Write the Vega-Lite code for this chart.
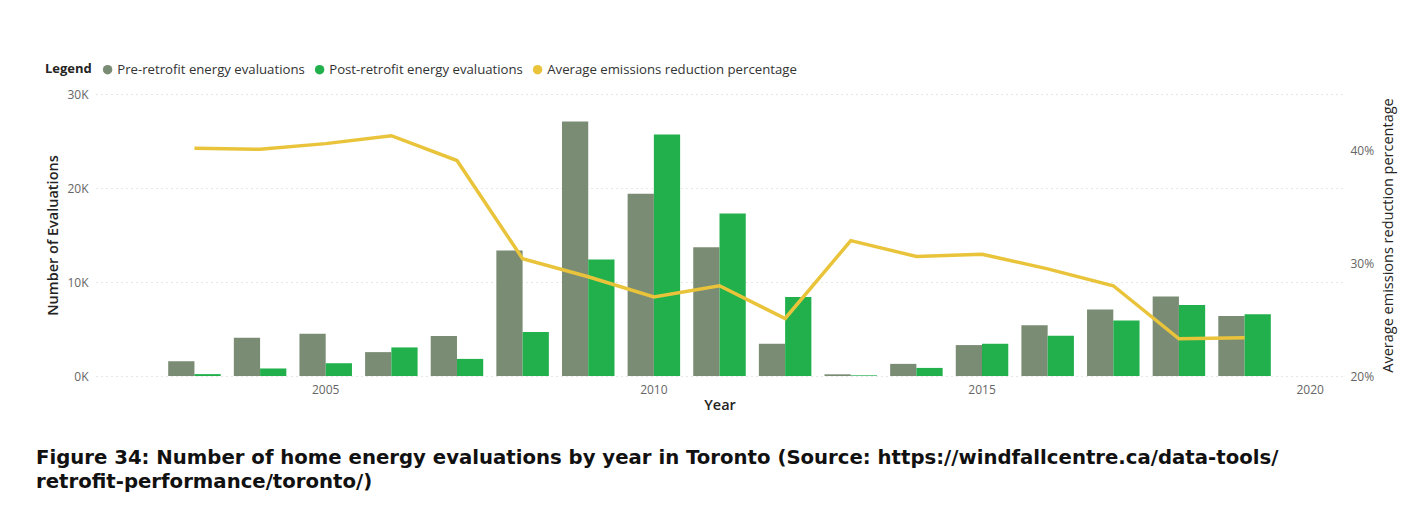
{
  "$schema": "https://vega.github.io/schema/vega-lite/v6.json",
  "autosize": {"type": "none"},
  "width": 1247,
  "height": 282,
  "padding": {"left": 96, "top": 94, "right": 75, "bottom": 138},
  "background": "#ffffff",
  "config": {
    "font": "Open Sans",
    "view": {"stroke": null},
    "axis": {"labelFont": "Open Sans", "titleFont": "Open Sans", "labelColor": "#666666", "labelFontSize": 12, "titleColor": "#252423", "titleFontSize": 14.5, "titleFontWeight": 600, "domain": false, "ticks": false}
  },
  "datasets": {
    "bars": [
      {"year": "2003", "series": "Pre-retrofit energy evaluations", "value": 1570},
      {"year": "2003", "series": "Post-retrofit energy evaluations", "value": 200},
      {"year": "2004", "series": "Pre-retrofit energy evaluations", "value": 4070},
      {"year": "2004", "series": "Post-retrofit energy evaluations", "value": 800},
      {"year": "2005", "series": "Pre-retrofit energy evaluations", "value": 4500},
      {"year": "2005", "series": "Post-retrofit energy evaluations", "value": 1360},
      {"year": "2006", "series": "Pre-retrofit energy evaluations", "value": 2540},
      {"year": "2006", "series": "Post-retrofit energy evaluations", "value": 3040},
      {"year": "2007", "series": "Pre-retrofit energy evaluations", "value": 4250},
      {"year": "2007", "series": "Post-retrofit energy evaluations", "value": 1820},
      {"year": "2008", "series": "Pre-retrofit energy evaluations", "value": 13360},
      {"year": "2008", "series": "Post-retrofit energy evaluations", "value": 4680},
      {"year": "2009", "series": "Pre-retrofit energy evaluations", "value": 27070},
      {"year": "2009", "series": "Post-retrofit energy evaluations", "value": 12400},
      {"year": "2010", "series": "Pre-retrofit energy evaluations", "value": 19400},
      {"year": "2010", "series": "Post-retrofit energy evaluations", "value": 25700},
      {"year": "2011", "series": "Pre-retrofit energy evaluations", "value": 13700},
      {"year": "2011", "series": "Post-retrofit energy evaluations", "value": 17300},
      {"year": "2012", "series": "Pre-retrofit energy evaluations", "value": 3430},
      {"year": "2012", "series": "Post-retrofit energy evaluations", "value": 8400},
      {"year": "2013", "series": "Pre-retrofit energy evaluations", "value": 180},
      {"year": "2013", "series": "Post-retrofit energy evaluations", "value": 70},
      {"year": "2014", "series": "Pre-retrofit energy evaluations", "value": 1290},
      {"year": "2014", "series": "Post-retrofit energy evaluations", "value": 860},
      {"year": "2015", "series": "Pre-retrofit energy evaluations", "value": 3290},
      {"year": "2015", "series": "Post-retrofit energy evaluations", "value": 3430},
      {"year": "2016", "series": "Pre-retrofit energy evaluations", "value": 5400},
      {"year": "2016", "series": "Post-retrofit energy evaluations", "value": 4290},
      {"year": "2017", "series": "Pre-retrofit energy evaluations", "value": 7070},
      {"year": "2017", "series": "Post-retrofit energy evaluations", "value": 5900},
      {"year": "2018", "series": "Pre-retrofit energy evaluations", "value": 8460},
      {"year": "2018", "series": "Post-retrofit energy evaluations", "value": 7540},
      {"year": "2019", "series": "Pre-retrofit energy evaluations", "value": 6390},
      {"year": "2019", "series": "Post-retrofit energy evaluations", "value": 6570}
    ],
    "line": [
      {"year": "2003", "pct": 40.2},
      {"year": "2004", "pct": 40.1},
      {"year": "2005", "pct": 40.6},
      {"year": "2006", "pct": 41.3},
      {"year": "2007", "pct": 39.1},
      {"year": "2008", "pct": 30.4},
      {"year": "2009", "pct": 28.8},
      {"year": "2010", "pct": 27.0},
      {"year": "2011", "pct": 28.0},
      {"year": "2012", "pct": 25.1},
      {"year": "2013", "pct": 32.0},
      {"year": "2014", "pct": 30.6},
      {"year": "2015", "pct": 30.8},
      {"year": "2016", "pct": 29.5},
      {"year": "2017", "pct": 28.0},
      {"year": "2018", "pct": 23.3},
      {"year": "2019", "pct": 23.4}
    ]
  },
  "title": {
    "text": ["Figure 34: Number of home energy evaluations by year in Toronto (Source: https://windfallcentre.ca/data-tools/", "retrofit-performance/toronto/)"],
    "orient": "bottom",
    "anchor": "start",
    "frame": "bounds",
    "font": "DejaVu Sans",
    "fontSize": 19.7,
    "fontWeight": "bold",
    "color": "#111111",
    "lineHeight": 24,
    "offset": 36,
    "dx": -9
  },
  "layer": [
    {
      "data": {"name": "bars"},
      "mark": {"type": "bar"},
      "encoding": {
        "x": {
          "field": "year", "type": "nominal",
          "scale": {"domain": ["2002","2003","2004","2005","2006","2007","2008","2009","2010","2011","2012","2013","2014","2015","2016","2017","2018","2019","2020"], "paddingInner": 0.2, "paddingOuter": 0.1},
          "axis": {"values": ["2005", "2010", "2015", "2020"], "labelAngle": 0, "labelPadding": 8, "title": "Year", "titlePadding": 3, "grid": false}
        },
        "xOffset": {
          "field": "series", "type": "nominal",
          "scale": {"domain": ["Pre-retrofit energy evaluations", "Post-retrofit energy evaluations"], "paddingInner": 0, "paddingOuter": 0}
        },
        "y": {
          "field": "value", "type": "quantitative",
          "scale": {"domain": [0, 30000], "nice": false},
          "axis": {"values": [0, 10000, 20000, 30000], "labelExpr": "datum.value / 1000 + 'K'", "labelPadding": 8, "title": "Number of Evaluations", "titlePadding": 6, "grid": true, "gridColor": "#cfcfcf", "gridDash": [1, 4], "gridWidth": 1}
        },
        "color": {
          "field": "series", "type": "nominal",
          "scale": {"domain": ["Pre-retrofit energy evaluations", "Post-retrofit energy evaluations", "Average emissions reduction percentage"], "range": ["#7b8c74", "#21b04b", "#e9c43b"]},
          "legend": {
            "orient": "none", "legendX": -51, "legendY": -31, "direction": "horizontal",
            "title": "Legend", "titleOrient": "left", "titleFontWeight": "bold", "titleFontSize": 13, "titleColor": "#252423", "titleFont": "Open Sans", "titlePadding": 9,
            "symbolType": "circle", "symbolSize": 90, "symbolStrokeWidth": 0,
            "labelFont": "Open Sans", "labelFontSize": 13.2, "labelColor": "#333333", "labelOffset": 3, "columnPadding": 8, "labelLimit": 400
          }
        }
      }
    },
    {
      "data": {"name": "line"},
      "mark": {"type": "line", "color": "#e9c43b", "strokeWidth": 3.5},
      "encoding": {
        "x": {
          "field": "year", "type": "nominal",
          "scale": {"domain": ["2002","2003","2004","2005","2006","2007","2008","2009","2010","2011","2012","2013","2014","2015","2016","2017","2018","2019","2020"]}
        },
        "y": {
          "field": "pct", "type": "quantitative",
          "scale": {"domain": [20, 45], "nice": false},
          "axis": {"orient": "right", "values": [20, 30, 40], "labelExpr": "datum.value + '%'", "labelPadding": 7, "title": "Average emissions reduction percentage", "titleAngle": 270, "titleFontWeight": "normal", "titleFontSize": 14.5, "titlePadding": 22, "grid": false}
        }
      }
    }
  ],
  "resolve": {"scale": {"y": "independent"}, "axis": {"y": "independent"}}
}
